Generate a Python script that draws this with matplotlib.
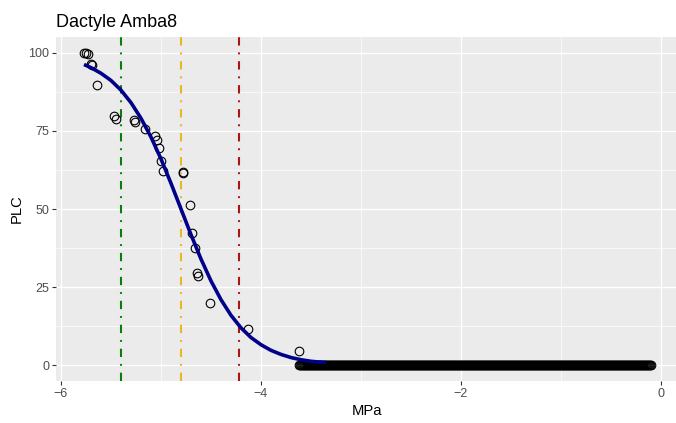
import matplotlib
matplotlib.use("Agg")
import matplotlib.pyplot as plt

# measured points (MPa, PLC)
pts_x = [-5.77, -5.75, -5.73, -5.70, -5.69, -5.64, -5.47, -5.45, -5.27, -5.26,
         -5.16, -5.06, -5.04, -5.02, -5.00, -4.98, -4.78, -4.78, -4.71, -4.69,
         -4.66, -4.64, -4.63, -4.51, -4.13, -3.62]
pts_y = [100.0, 100.0, 99.5, 96.3, 96.0, 89.8, 79.7, 78.8, 78.5, 77.8,
         75.7, 73.5, 72.2, 69.5, 65.3, 62.2, 61.8, 61.6, 51.2, 42.2,
         37.6, 29.4, 28.5, 20.0, 11.7, 4.7]

# points sitting at PLC = 0 (dense, they merge into a black band)
zero_x = [
    -3.62, -3.61, -3.60, -3.59, -3.58, -3.57, -3.56, -3.55, -3.54, -3.53,
    -3.52, -3.51, -3.50, -3.49, -3.48, -3.47, -3.46, -3.45, -3.44, -3.43,
    -3.42, -3.41, -3.40, -3.39, -3.38, -3.37, -3.36, -3.35, -3.34, -3.33,
    -3.32, -3.31, -3.30, -3.29, -3.28, -3.27, -3.26, -3.25, -3.24, -3.23,
    -3.22, -3.21, -3.20, -3.19, -3.18, -3.17, -3.16, -3.15, -3.14, -3.13,
    -3.12, -3.11, -3.10, -3.09, -3.08, -3.07, -3.06, -3.05, -3.04, -3.03,
    -3.02, -3.01, -3.00, -2.99, -2.98, -2.97, -2.96, -2.95, -2.94, -2.93,
    -2.92, -2.91, -2.90, -2.89, -2.88, -2.87, -2.86, -2.85, -2.84, -2.83,
    -2.82, -2.81, -2.80, -2.79, -2.78, -2.77, -2.76, -2.75, -2.74, -2.73,
    -2.72, -2.71, -2.70, -2.69, -2.68, -2.67, -2.66, -2.65, -2.64, -2.63,
    -2.62, -2.61, -2.60, -2.59, -2.58, -2.57, -2.56, -2.55, -2.54, -2.53,
    -2.52, -2.51, -2.50, -2.49, -2.48, -2.47, -2.46, -2.45, -2.44, -2.43,
    -2.42, -2.41, -2.40, -2.39, -2.38, -2.37, -2.36, -2.35, -2.34, -2.33,
    -2.32, -2.31, -2.30, -2.29, -2.28, -2.27, -2.26, -2.25, -2.24, -2.23,
    -2.22, -2.21, -2.20, -2.19, -2.18, -2.17, -2.16, -2.15, -2.14, -2.13,
    -2.12, -2.11, -2.10, -2.09, -2.08, -2.07, -2.06, -2.05, -2.04, -2.03,
    -2.02, -2.01, -2.00, -1.99, -1.98, -1.97, -1.96, -1.95, -1.94, -1.93,
    -1.92, -1.91, -1.90, -1.89, -1.88, -1.87, -1.86, -1.85, -1.84, -1.83,
    -1.82, -1.81, -1.80, -1.79, -1.78, -1.77, -1.76, -1.75, -1.74, -1.73,
    -1.72, -1.71, -1.70, -1.69, -1.68, -1.67, -1.66, -1.65, -1.64, -1.63,
    -1.62, -1.61, -1.60, -1.59, -1.58, -1.57, -1.56, -1.55, -1.54, -1.53,
    -1.52, -1.51, -1.50, -1.49, -1.48, -1.47, -1.46, -1.45, -1.44, -1.43,
    -1.42, -1.41, -1.40, -1.39, -1.38, -1.37, -1.36, -1.35, -1.34, -1.33,
    -1.32, -1.31, -1.30, -1.29, -1.28, -1.27, -1.26, -1.25, -1.24, -1.23,
    -1.22, -1.21, -1.20, -1.19, -1.18, -1.17, -1.16, -1.15, -1.14, -1.13,
    -1.12, -1.11, -1.10, -1.09, -1.08, -1.07, -1.06, -1.05, -1.04, -1.03,
    -1.02, -1.01, -1.00, -0.99, -0.98, -0.97, -0.96, -0.95, -0.94, -0.93,
    -0.92, -0.91, -0.90, -0.89, -0.88, -0.87, -0.86, -0.85, -0.84, -0.83,
    -0.82, -0.81, -0.80, -0.79, -0.78, -0.77, -0.76, -0.75, -0.74, -0.73,
    -0.72, -0.71, -0.70, -0.69, -0.68, -0.67, -0.66, -0.65, -0.64, -0.63,
    -0.62, -0.61, -0.60, -0.59, -0.58, -0.57, -0.56, -0.55, -0.54, -0.53,
    -0.52, -0.51, -0.50, -0.49, -0.48, -0.47, -0.46, -0.45, -0.44, -0.43,
    -0.42, -0.41, -0.40, -0.39, -0.38, -0.37, -0.36, -0.35, -0.34, -0.33,
    -0.32, -0.31, -0.30, -0.29, -0.28, -0.27, -0.26, -0.25, -0.24, -0.23,
    -0.22, -0.21, -0.20, -0.19, -0.18, -0.17, -0.16, -0.15, -0.14, -0.13,
    -0.12, -0.11, -0.10,
]

# fitted curve
fit_x = [-5.77, -5.70, -5.60, -5.50, -5.40, -5.30, -5.20, -5.10, -5.00, -4.90,
         -4.80, -4.70, -4.60, -4.50, -4.40, -4.30, -4.20, -4.10, -4.00, -3.90,
         -3.80, -3.70, -3.60, -3.50, -3.40, -3.35]
fit_y = [96.2, 95.2, 93.4, 91.1, 88.0, 84.0, 79.0, 73.0, 66.0, 58.2,
         50.0, 41.8, 34.0, 27.0, 21.0, 16.0, 12.0, 8.9, 6.6, 4.8,
         3.5, 2.5, 1.8, 1.3, 1.0, 0.9]

# P12 / P50 / P88 lines
vlines_x = [-5.40, -4.80, -4.22]
vlines_col = ["#0B7D0B", "#EDB424", "#A81616"]

xticks = [-6, -4, -2, 0]
yticks = [0, 25, 50, 75, 100]

plt.rcParams["font.family"] = ["Liberation Sans", "DejaVu Sans"]

fig = plt.figure(figsize=(6.76, 4.23), dpi=100)
ax = fig.add_axes([56 / 676, 42 / 423, 620 / 676, 344 / 423])
ax.set_facecolor("#EBEBEB")

ax.set_xlim(-6.05, 0.15)
ax.set_ylim(-5, 105)
ax.set_xticks(xticks)
ax.set_yticks(yticks)
ax.set_xticks([-5, -3, -1], minor=True)
ax.set_yticks([12.5, 37.5, 62.5, 87.5], minor=True)
ax.grid(which="major", color="white", linewidth=1.0)
ax.grid(which="minor", color="white", linewidth=0.5)
ax.set_axisbelow(True)
for s in ax.spines.values():
    s.set_visible(False)
ax.tick_params(which="major", length=2.7, width=0.8, color="#333333",
               labelcolor="#4D4D4D", labelsize=9, pad=2)
ax.tick_params(which="minor", length=0)

for xv, c in zip(vlines_x, vlines_col):
    ax.axvline(xv, color=c, linewidth=1.5, linestyle=(0, (4, 3.3, 0.9, 3.3)), zorder=2)

ax.plot(pts_x, pts_y, linestyle="none", marker="o", markersize=6.2,
        markerfacecolor="none", markeredgecolor="black", markeredgewidth=0.8, zorder=3)
ax.plot(zero_x, [0] * len(zero_x), linestyle="none", marker="o", markersize=6.2,
        markerfacecolor="none", markeredgecolor="black", markeredgewidth=0.8, zorder=3)
ax.plot(fit_x, fit_y, color="#00008B", linewidth=2.6, zorder=4, solid_capstyle="butt")

fig.text(56 / 676, 1 - 26.7 / 423, "Dactyle Amba8", fontsize=13, va="baseline", ha="left")
fig.text(367 / 676, 1 - 411 / 423, "MPa", fontsize=10.6, va="center", ha="center")
fig.text(16.5 / 676, 1 - 209 / 423, "PLC", fontsize=10.6, va="center", ha="center", rotation=90)

fig.savefig("out.png", dpi=100)
